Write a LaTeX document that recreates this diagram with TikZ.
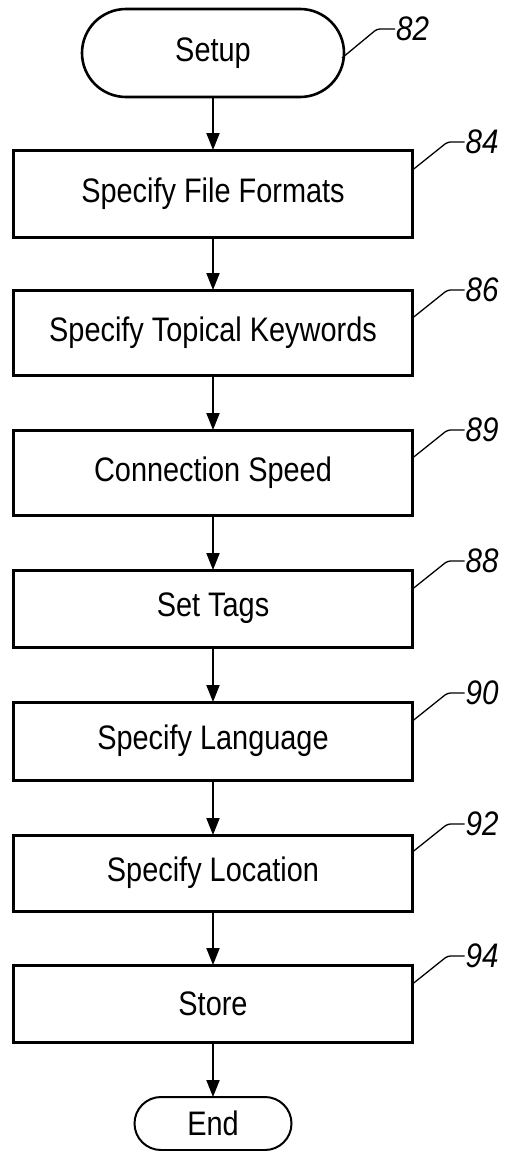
\documentclass[tikz,border=0pt]{standalone}
\usepackage{fontspec}
\setmainfont{Liberation Sans}[FakeStretch=0.85]
\newfontfamily\refnumfont{Liberation Sans}[FakeStretch=0.87]
\usetikzlibrary{positioning,shapes.misc,arrows.meta}

\begin{document}
\begin{tikzpicture}[x=1pt,y=-1pt]
\tikzstyle{term}=[rounded rectangle, draw=black, line width=2.6pt, inner sep=0pt, outer sep=0pt, font=\fontsize{34}{38}\selectfont]
\tikzstyle{box}=[rectangle, draw=black, line width=3pt, minimum width=399pt, inner sep=0pt, outer sep=0pt, font=\fontsize{34}{38}\selectfont]
\tikzstyle{connect}=[-{Triangle[length=17pt,width=13pt]}, line width=2pt]
\tikzstyle{num}=[inner sep=1pt, font=\refnumfont\itshape\fontsize{34}{38}\selectfont]
\tikzstyle{leader}=[line width=1.3pt, rounded corners=3pt]

\useasboundingbox (0,0) rectangle (504,1151);

%% Flow
  \node[term, minimum width=262pt, minimum height=88pt] (setup) at (213,53) {Setup};
  \node[box, minimum height=87pt] (formats) [below=53pt of setup] {Specify File Formats};
  \node[box, minimum height=85pt] (keywords) [below=53pt of formats] {Specify Topical Keywords};
  \node[box, minimum height=85pt] (speed) [below=55pt of keywords] {Connection Speed};
  \node[box, minimum height=77pt] (tags) [below=55pt of speed] {Set Tags};
  \node[box, minimum height=78pt] (language) [below=55pt of tags] {Specify Language};
  \node[box, minimum height=76pt] (location) [below=55pt of language] {Specify Location};
  \node[box, minimum height=77pt] (store) [below=54pt of location] {Store};
  \node[term, minimum width=157pt, minimum height=53pt, line width=2pt] (end) [below=55pt of store] {End};

%% Reference numerals
  \node[num] (l82) [right=51pt of setup.east, yshift=24pt] {82};
  \node[num] (l84) [right=52pt of formats.north east, yshift=8pt] {84};
  \node[num] (l86) [right=52pt of keywords.north east] {86};
  \node[num] (l89) [right=52pt of speed.north east] {89};
  \node[num] (l88) [right=52pt of tags.north east, yshift=9pt] {88};
  \node[num] (l90) [right=52pt of language.north east, yshift=9pt] {90};
  \node[num] (l92) [right=52pt of location.north east, yshift=11pt] {92};
  \node[num] (l94) [right=52pt of store.north east, yshift=9pt] {94};

  \path
           (setup) edge [connect] (formats)
           (formats) edge [connect] (keywords)
           (keywords) edge [connect] (speed)
           (speed) edge [connect] (tags)
           (tags) edge [connect] (language)
           (language) edge [connect] (location)
           (location) edge [connect] (store)
           (store) edge [connect] (end);

  % leader lines
  \draw[leader] (l82.west) -- ++(-18,0) -- ++(-35,29);
  \draw[leader] (l84.west) -- ++(-17,0) -- ++(-35,28);
  \draw[leader] (l86.west) -- ++(-17,0) -- ++(-35,28);
  \draw[leader] (l89.west) -- ++(-17,0) -- ++(-35,28);
  \draw[leader] (l88.west) -- ++(-17,0) -- ++(-35,28);
  \draw[leader] (l90.west) -- ++(-17,0) -- ++(-35,28);
  \draw[leader] (l92.west) -- ++(-17,0) -- ++(-35,28);
  \draw[leader] (l94.west) -- ++(-17,0) -- ++(-35,28);
\end{tikzpicture}
\end{document}
